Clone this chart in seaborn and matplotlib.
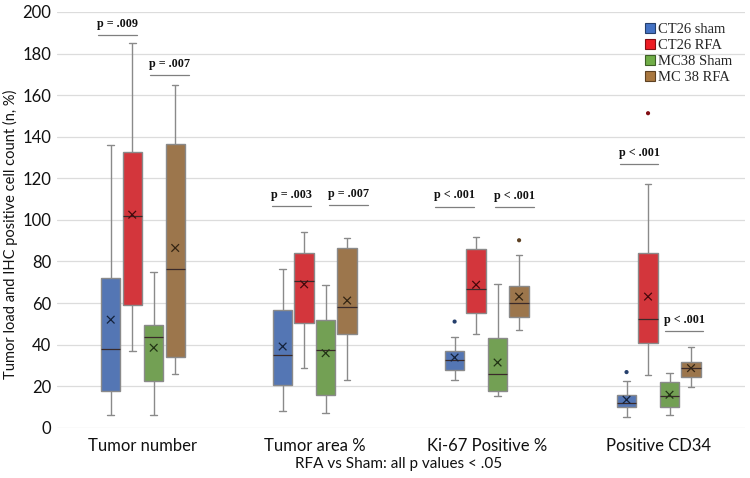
import numpy as np
import pandas as pd
import matplotlib
matplotlib.use("Agg")
import matplotlib.pyplot as plt
import seaborn as sns
from matplotlib.lines import Line2D
from matplotlib.colors import to_rgb

# categories and groups
categories = ["Tumor number", "Tumor area %", "Ki-67 Positive %", "Positive CD34"]
groups = ["CT26 sham", "CT26 RFA", "MC38 Sham", "MC 38 RFA"]
colors = ["#4472C4", "#ED1C24", "#70AD47", "#A9773F"]

# five-number summaries per category: [low whisker, Q1, median, Q3, high whisker]
ct26_sham = [[6, 17.5, 38, 72, 136], [8.3, 20.7, 35.1, 56.7, 76.4],
             [22.8, 27.9, 32.5, 36.9, 43.6], [5.4, 9.9, 11.9, 15.9, 22.6]]
ct26_rfa = [[37, 59, 102, 132.5, 185], [29, 50.6, 70.4, 84, 94.4],
            [44.9, 55, 66.7, 86, 92], [25.5, 40.7, 52.3, 84, 117.3]]
mc38_sham = [[6, 22.5, 43.5, 49.5, 75], [7, 15.7, 37.3, 51.9, 68.6],
             [15.4, 17.6, 26, 43.4, 69.4], [6.2, 10.2, 15.5, 21.8, 26.6]]
mc38_rfa = [[26, 34, 76.5, 136.5, 165], [23.2, 44.9, 58, 86.4, 91.3],
            [47.1, 53.4, 59.9, 68, 83], [19.6, 24.4, 28.7, 31.6, 38.8]]

# means (x markers)
ct26_sham_mean = [52, 39.1, 33.8, 13.5]
ct26_rfa_mean = [102.5, 69, 68.8, 63.1]
mc38_sham_mean = [38.5, 35.9, 31.4, 15.9]
mc38_rfa_mean = [86.5, 61.2, 63.1, 28.7]

# outliers: (category, group, value)
outlier_cat = ["Ki-67 Positive %", "Ki-67 Positive %", "Positive CD34", "Positive CD34"]
outlier_grp = ["CT26 sham", "MC 38 RFA", "CT26 sham", "CT26 RFA"]
outlier_val = [51.1, 90.2, 26.8, 151.3]

# p-value annotations
p_texts = ["p = .009", "p = .007", "p = .003", "p = .007",
           "p < .001", "p < .001", "p < .001", "p < .001"]
p_levels = [189, 169.5, 106.7, 107.2, 106.4, 106.2, 127, 46.6]
p_cat = [0, 0, 1, 1, 2, 2, 3, 3]
p_offset = [-0.15, 0.156, -0.136, 0.193, -0.188, 0.16, -0.115, 0.147]

summaries = [ct26_sham, ct26_rfa, mc38_sham, mc38_rfa]
means = [ct26_sham_mean, ct26_rfa_mean, mc38_sham_mean, mc38_rfa_mean]

rows = []
for g, summ in zip(groups, summaries):
    for c, five in zip(categories, summ):
        for v in five:
            rows.append({"category": c, "group": g, "value": v})
df = pd.DataFrame(rows)

box_width = 0.5
gap = 0.1
slot = box_width / len(groups)


def xpos(cat, grp):
    return categories.index(cat) + (groups.index(grp) - (len(groups) - 1) / 2) * slot


mean_df = pd.DataFrame({
    "x": [xpos(c, g) for g in groups for c in categories],
    "value": [m for ms in means for m in ms],
    "group": [g for g in groups for c in categories],
})
out_df = pd.DataFrame({
    "x": [xpos(c, g) for c, g in zip(outlier_cat, outlier_grp)],
    "value": outlier_val,
    "group": outlier_grp,
})


def darker(col, f=0.55):
    r, g, b = to_rgb(col)
    return (r * f, g * f, b * f)


palette = dict(zip(groups, colors))
dark_palette = {g: darker(c) for g, c in palette.items()}
mean_palette = {g: darker(c, 0.3) for g, c in palette.items()}

sns.set_theme(style="whitegrid")
plt.rcParams["font.family"] = ["Lato", "DejaVu Sans"]

fig, ax = plt.subplots(figsize=(7.5, 4.78), dpi=100)
fig.subplots_adjust(left=0.076, right=0.993, bottom=0.105, top=0.975)

sns.boxplot(data=df, x="category", y="value", hue="group", order=categories,
            hue_order=groups, palette=palette, width=box_width, gap=gap,
            whis=(0, 100), linecolor="#8a8a8a", linewidth=1.0,
            legend=False, ax=ax)

# darker edges for boxes and medians, short caps
face_to_dark = {tuple(np.round(to_rgb(c), 3)): darker(c) for c in colors}
for p in ax.patches:
    fc = tuple(np.round(p.get_facecolor()[:3], 3))
    if fc in face_to_dark:
        p.set_edgecolor(face_to_dark[fc])
        p.set_linewidth(0.9)

box_w = slot * (1 - gap)
for ln in ax.lines:
    xd = np.asarray(ln.get_xdata(), dtype=float)
    yd = np.asarray(ln.get_ydata(), dtype=float)
    if len(xd) == 2 and yd[0] == yd[1]:
        span = abs(xd[1] - xd[0])
        cx = xd.mean()
        if span > box_w * 0.8:
            # median line
            ln.set_color("#3a2a2a")
            ln.set_linewidth(0.9)
        else:
            ln.set_xdata([cx - box_w * 0.17, cx + box_w * 0.17])

sns.scatterplot(data=mean_df, x="x", y="value", hue="group", palette=mean_palette,
                marker="x", s=30, linewidth=0.9, legend=False, ax=ax, zorder=5)
sns.scatterplot(data=out_df, x="x", y="value", hue="group", palette=dark_palette,
                marker="o", s=9, linewidth=0, legend=False, ax=ax, zorder=5)

for txt, lev, ci, off in zip(p_texts, p_levels, p_cat, p_offset):
    xc = ci + off
    ax.plot([xc - 0.113, xc + 0.113], [lev, lev], color="#7f7f7f", lw=0.9, zorder=4)
    ax.text(xc, lev + 2.5, txt, ha="center", va="bottom", fontsize=8.7,
            fontweight="bold", family=["Liberation Serif", "DejaVu Serif"], color="#111111")

ax.set_xlim(-0.5, 3.5)
ax.set_ylim(0, 200)
ax.set_yticks(range(0, 201, 20))
ax.set_xticks(range(len(categories)))
ax.set_xticklabels(categories)
ax.grid(axis="x", visible=False)
ax.grid(axis="y", color="#dcdcdc", linewidth=0.9)
for s in ax.spines.values():
    s.set_visible(False)
ax.tick_params(axis="both", length=0, labelsize=12, colors="#111111")
ax.tick_params(axis="x", pad=7)
ax.tick_params(axis="y", pad=4)
ax.set_xlabel("RFA vs Sham: all p values < .05", fontsize=11, color="#111111")
ax.set_ylabel("Tumor load and IHC positive cell count (n, %)", fontsize=10.5,
              color="#111111")
ax.xaxis.set_label_coords(0.497, -0.07)
ax.yaxis.set_label_coords(-0.056, 0.465)

handles = [Line2D([0], [0], marker="s", linestyle="", markersize=6.5,
                  markerfacecolor=c, markeredgecolor=darker(c), markeredgewidth=0.8)
           for c in colors]
ax.legend(handles, groups, loc="upper right", bbox_to_anchor=(0.995, 0.995),
          frameon=False, handlelength=0.6, handletextpad=0.25, labelspacing=0.2,
          borderaxespad=0.2, prop={"family": ["Liberation Serif", "DejaVu Serif"], "size": 10.5})

fig.savefig("out.png", dpi=100)
